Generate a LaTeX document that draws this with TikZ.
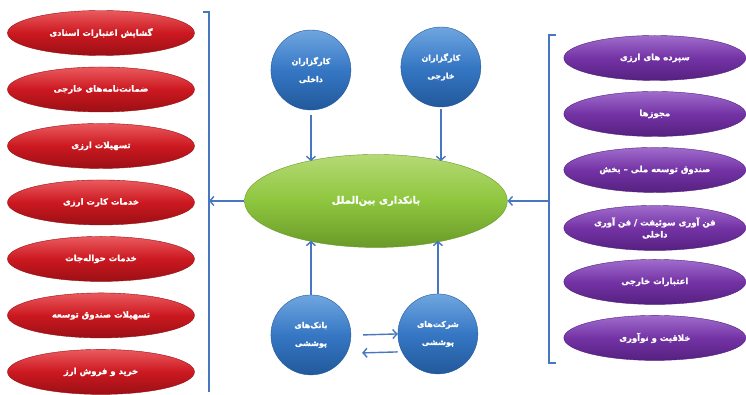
\documentclass[tikz,border=0pt]{standalone}
\usepackage{fontspec}
\usepackage{tikz}
\usetikzlibrary{arrows.meta,calc,shapes.geometric}
\newfontfamily\fafont[Script=Arabic,BoldFeatures={FakeBold=1.2}]{DejaVu Sans}
\TeXXeTstate=1
\newcommand{\fa}[1]{{\fafont\bfseries\beginR #1\endR}}
\definecolor{linkblue}{HTML}{4677C0}
\definecolor{redtop}{HTML}{EA5A5E}
\definecolor{redmid}{HTML}{CC1820}
\definecolor{redbot}{HTML}{9A1015}
\definecolor{purptop}{HTML}{A06CCC}
\definecolor{purpmid}{HTML}{7433A5}
\definecolor{purpbot}{HTML}{552080}
\definecolor{bluetop}{HTML}{6FA6E0}
\definecolor{bluemid}{HTML}{3677C4}
\definecolor{bluebot}{HTML}{22599B}
\definecolor{greentop}{HTML}{B5DA75}
\definecolor{greenmid}{HTML}{8EC63E}
\definecolor{greenbot}{HTML}{6A9A28}

\begin{document}
\begin{tikzpicture}[x=1pt, y=-1pt, >={Straight Barb[length=4pt,width=9pt]},
  oval/.style={ellipse, inner sep=0pt, text=white, align=center,
    font=\fontsize{8.5}{12}\selectfont},
  redoval/.style={oval, minimum width=187pt, minimum height=45pt, draw=redbot,
    top color=redtop, bottom color=redbot, middle color=redmid},
  purpoval/.style={oval, minimum width=182pt, minimum height=45pt, draw=purpbot,
    top color=purptop, bottom color=purpbot, middle color=purpmid},
  greenoval/.style={oval, minimum width=263pt, minimum height=93pt, draw=greenbot,
    top color=greentop, bottom color=greenbot, middle color=greenmid,
    font=\fontsize{10}{12}\selectfont},
  bluecirc/.style={circle, minimum size=80pt, inner sep=0pt, draw=bluebot,
    top color=bluetop, bottom color=bluebot, middle color=bluemid,
    text=white, align=center, font=\fontsize{8}{18}\selectfont},
  bracket/.style={linkblue, line width=1.4pt},
  flow/.style={->, linkblue, line width=1.4pt}]
  \fill[white] (0,0) rectangle (746,392);

  % left group
  \foreach \i/\txt in {1/گشایش اعتبارات اسنادی, 2/ضمانت‌نامه‌های خارجی,
      3/تسهیلات ارزی, 4/خدمات کارت ارزی, 5/خدمات حواله‌جات,
      6/تسهیلات صندوق توسعه, 7/خرید و فروش ارز}{
    \node[redoval] (r\i) at (101,{33+(\i-1)*56.5}) {\fa{\txt}};
  };

  % right group
  \foreach \i/\txt in {1/سپرده های ارزی, 2/مجوزها, 3/صندوق توسعه ملی – بخش,
      5/اعتبارات خارجی, 6/خلاقیت و نوآوری}{
    \node[purpoval] (p\i) at (655,{58+(\i-1)*56}) {\fa{\txt}};
  };
  \node[purpoval] (p4) at (655,228) {\fa{فن آوری سوئیفت / فن آوری}\\\fa{داخلی}};

  % center
  \node[greenoval] (bank) at (376,201) {\fa{بانکداری بین‌الملل}};
  \node[bluecirc] (kd) at (311,70) {\fa{کارگزاران}\\\fa{داخلی}};
  \node[bluecirc] (kk) at (441,67) {\fa{کارگزاران}\\\fa{خارجی}};
  \node[bluecirc] (bp) at (311,335) {\fa{بانک‌های}\\\fa{پوششی}};
  \node[bluecirc] (sp) at (438,334) {\fa{شرکت‌های}\\\fa{پوششی}};

  \draw[flow] ([yshift=-5pt]kd.south) -- (kd.south |- bank.150);
  \draw[flow] ([yshift=-2pt]kk.south) -- (kk.south |- bank.30);
  \draw[flow] (bp.north) -- (bp.north |- bank.210);
  \draw[flow] (sp.north) -- (sp.north |- bank.330);
  \draw[flow] ([xshift=12pt]bp.east) -- (sp.west);
  \draw[flow] ([yshift=-18pt]sp.west) -- ([xshift=11pt,yshift=-18pt]bp.east);

  % brackets
  \coordinate (lbtop) at (209,12);
  \coordinate (lbbot) at (209,392);
  \draw[bracket] (203,12) -- (lbtop) -- (lbbot);
  \draw[flow] (bank.west) -- (bank.west -| lbtop);
  \coordinate (rbtop) at (549,35);
  \coordinate (rbbot) at (549,363);
  \draw[bracket] (556,35) -- (rbtop) -- (rbbot) -- (556,363);
  \draw[flow] (bank.east -| rbtop) -- (bank.east);
\end{tikzpicture}
\end{document}
